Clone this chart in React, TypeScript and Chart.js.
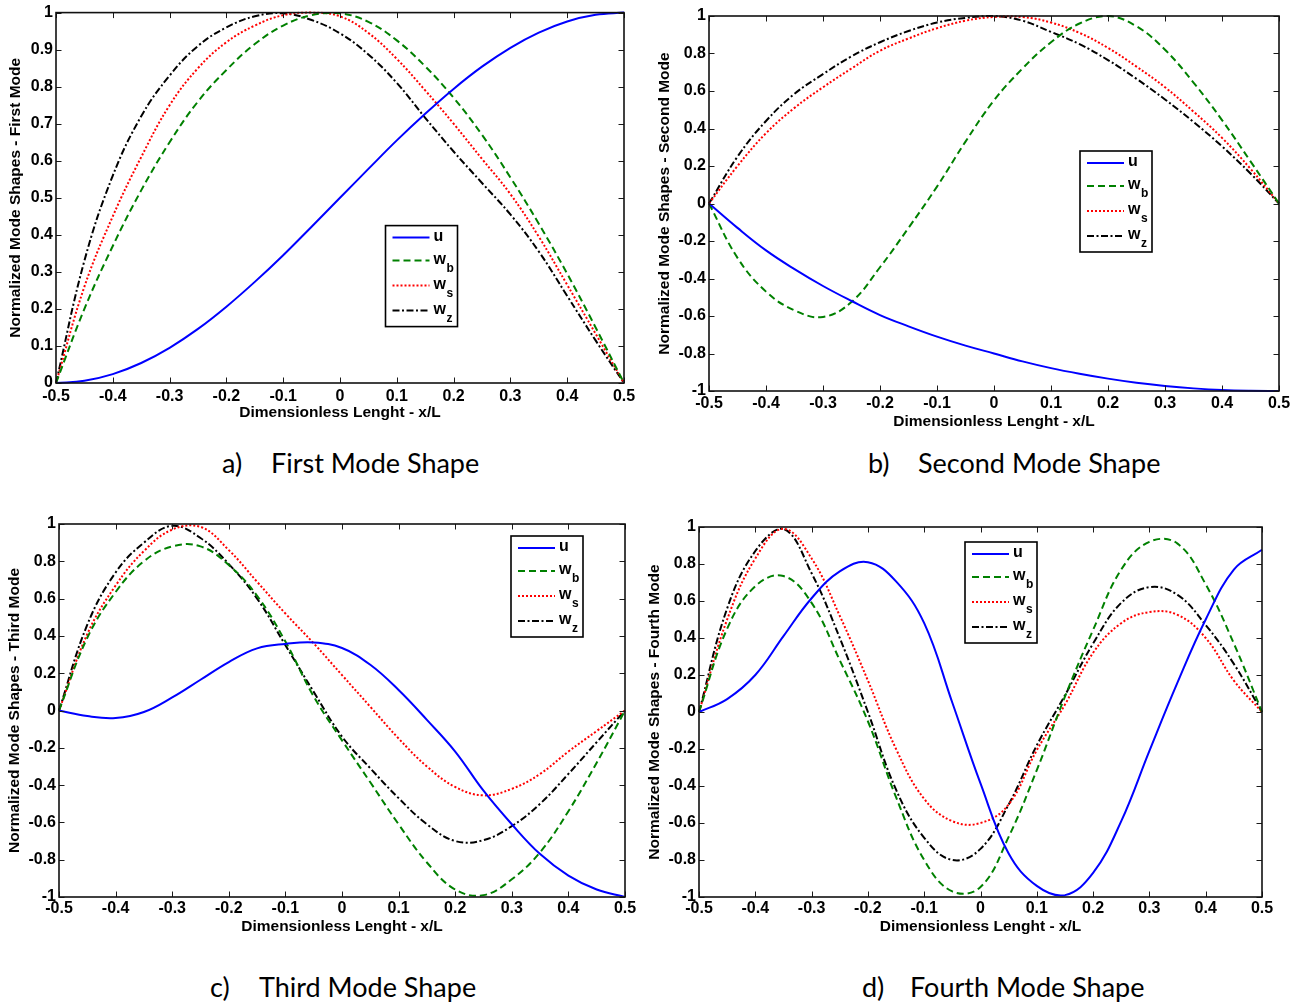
import React, { useEffect, useRef } from 'react';
import { Chart, registerables } from 'chart.js';

Chart.register(...registerables);

// ---------------- data ----------------
const X = [-0.5, -0.45, -0.4, -0.35, -0.3, -0.25, -0.2, -0.15, -0.1, -0.05, 0, 0.05, 0.1, 0.15, 0.2, 0.25, 0.3, 0.35, 0.4, 0.45, 0.5];

const X_TICKS = [-0.5, -0.4, -0.3, -0.2, -0.1, 0, 0.1, 0.2, 0.3, 0.4, 0.5];
const X_TICK_LABELS = ['-0.5', '-0.4', '-0.3', '-0.2', '-0.1', '0', '0.1', '0.2', '0.3', '0.4', '0.5'];
const Y_TICKS_FIRST = [0, 0.1, 0.2, 0.3, 0.4, 0.5, 0.6, 0.7, 0.8, 0.9, 1];
const Y_TICK_LABELS_FIRST = ['0', '0.1', '0.2', '0.3', '0.4', '0.5', '0.6', '0.7', '0.8', '0.9', '1'];
const Y_TICKS_OTHER = [-1, -0.8, -0.6, -0.4, -0.2, 0, 0.2, 0.4, 0.6, 0.8, 1];
const Y_TICK_LABELS_OTHER = ['-1', '-0.8', '-0.6', '-0.4', '-0.2', '0', '0.2', '0.4', '0.6', '0.8', '1'];

const SERIES_MAIN = ['u', 'w', 'w', 'w'];
const SERIES_SUB = ['', 'b', 's', 'z'];

// a) First mode
const A_U = [0, 0.006, 0.024, 0.054, 0.095, 0.146, 0.206, 0.273, 0.345, 0.422, 0.5, 0.578, 0.655, 0.727, 0.794, 0.854, 0.905, 0.946, 0.976, 0.994, 1];
const A_WB = [0, 0.2, 0.37, 0.52, 0.65, 0.76, 0.845, 0.915, 0.965, 0.993, 0.998, 0.975, 0.925, 0.855, 0.77, 0.67, 0.555, 0.43, 0.295, 0.15, 0];
const A_WS = [0, 0.26, 0.45, 0.61, 0.75, 0.85, 0.92, 0.965, 0.993, 1.0, 0.99, 0.945, 0.875, 0.79, 0.7, 0.605, 0.51, 0.395, 0.265, 0.133, 0];
const A_WZ = [0, 0.33, 0.56, 0.72, 0.83, 0.91, 0.96, 0.99, 0.998, 0.98, 0.944, 0.887, 0.81, 0.716, 0.625, 0.54, 0.455, 0.355, 0.235, 0.115, 0];

// b) Second mode
const B_U = [0, -0.13, -0.25, -0.35, -0.44, -0.52, -0.595, -0.655, -0.71, -0.758, -0.8, -0.842, -0.878, -0.908, -0.934, -0.956, -0.973, -0.986, -0.995, -0.999, -1.0];
const B_WB = [0, -0.29, -0.47, -0.57, -0.605, -0.525, -0.34, -0.13, 0.09, 0.33, 0.55, 0.72, 0.86, 0.96, 1.0, 0.945, 0.82, 0.645, 0.445, 0.225, 0];
const B_WS = [0, 0.2, 0.375, 0.51, 0.62, 0.72, 0.815, 0.88, 0.935, 0.975, 0.995, 0.995, 0.965, 0.91, 0.83, 0.73, 0.62, 0.49, 0.35, 0.185, 0];
const B_WZ = [0, 0.25, 0.44, 0.585, 0.69, 0.785, 0.86, 0.92, 0.965, 0.99, 1.0, 0.975, 0.915, 0.85, 0.765, 0.665, 0.555, 0.435, 0.305, 0.16, 0];

// c) Third mode
const C_U = [0, -0.03, -0.04, -0.008, 0.07, 0.165, 0.26, 0.333, 0.357, 0.365, 0.335, 0.245, 0.11, -0.05, -0.22, -0.43, -0.61, -0.77, -0.885, -0.96, -1.0];
const C_WB = [0, 0.39, 0.635, 0.8, 0.88, 0.88, 0.78, 0.615, 0.37, 0.075, -0.16, -0.385, -0.61, -0.815, -0.96, -0.99, -0.905, -0.76, -0.54, -0.28, 0];
const C_WS = [0, 0.41, 0.67, 0.855, 0.97, 0.985, 0.86, 0.69, 0.52, 0.36, 0.19, 0.02, -0.15, -0.3, -0.41, -0.455, -0.42, -0.34, -0.22, -0.11, 0];
const C_WZ = [0, 0.46, 0.74, 0.9, 0.99, 0.925, 0.785, 0.6, 0.35, 0.1, -0.14, -0.31, -0.47, -0.61, -0.7, -0.695, -0.62, -0.5, -0.34, -0.17, 0];

// d) Fourth mode
const D_U = [0, 0.07, 0.2, 0.41, 0.615, 0.76, 0.81, 0.706, 0.48, 0.05, -0.386, -0.765, -0.94, -0.99, -0.87, -0.59, -0.21, 0.16, 0.5, 0.77, 0.877];
const D_WB = [0, 0.45, 0.68, 0.735, 0.59, 0.28, -0.05, -0.46, -0.8, -0.97, -0.946, -0.675, -0.314, 0.083, 0.444, 0.77, 0.92, 0.91, 0.69, 0.37, 0];
const D_WS = [0, 0.5, 0.83, 0.99, 0.83, 0.52, 0.17, -0.2, -0.47, -0.59, -0.6, -0.5, -0.206, 0.04, 0.32, 0.48, 0.54, 0.525, 0.4, 0.17, 0];
const D_WZ = [0, 0.56, 0.87, 0.99, 0.75, 0.4, 0.0, -0.42, -0.68, -0.8, -0.74, -0.5, -0.18, 0.09, 0.37, 0.59, 0.675, 0.633, 0.47, 0.26, 0];

// ---------------- styles ----------------
const FONT = 'Liberation Sans, Arial, sans-serif';
const STYLES = [
  { color: '#0000ff', dash: [] as number[] },
  { color: '#008000', dash: [7, 4] },
  { color: '#ff0000', dash: [2, 2] },
  { color: '#000000', dash: [7, 2.5, 2, 2.5] },
];

type PanelCfg = {
  left: number; top: number; w: number; h: number;
  yAxisW: number; xAxisH: number; padTop: number; padRight: number;
  xTickPad: number; xTitlePad: number; yTitlePad: number;
  yMin: number; yMax: number; yTicks: number[]; yLabels: string[];
  yTitle: string; series: number[][]; legend: { dx: number; dy: number };
};

const PANELS: PanelCfg[] = [
  {
    left: 0, top: 0, w: 650, h: 430, yAxisW: 56, xAxisH: 47, padTop: 10, padRight: 26,
    xTickPad: 4, xTitlePad: 8, yTitlePad: 6, yMin: 0, yMax: 1,
    yTicks: Y_TICKS_FIRST, yLabels: Y_TICK_LABELS_FIRST,
    yTitle: 'Normalized Mode Shapes - First Mode', series: [A_U, A_WB, A_WS, A_WZ],
    legend: { dx: 329.5, dy: 213 },
  },
  {
    left: 650, top: 0, w: 658, h: 440, yAxisW: 59, xAxisH: 49, padTop: 16, padRight: 29,
    xTickPad: 2.5, xTitlePad: 9, yTitlePad: 5, yMin: -1, yMax: 1,
    yTicks: Y_TICKS_OTHER, yLabels: Y_TICK_LABELS_OTHER,
    yTitle: 'Normalized Mode Shapes - Second Mode', series: [B_U, B_WB, B_WS, B_WZ],
    legend: { dx: 371, dy: 135 },
  },
  {
    left: 0, top: 505, w: 650, h: 440, yAxisW: 59, xAxisH: 48, padTop: 19, padRight: 25,
    xTickPad: 1.5, xTitlePad: 9, yTitlePad: 5, yMin: -1, yMax: 1,
    yTicks: Y_TICKS_OTHER, yLabels: Y_TICK_LABELS_OTHER,
    yTitle: 'Normalized Mode Shapes - Third Mode', series: [C_U, C_WB, C_WS, C_WZ],
    legend: { dx: 452, dy: 12 },
  },
  {
    left: 640, top: 505, w: 668, h: 440, yAxisW: 59, xAxisH: 48, padTop: 22, padRight: 46,
    xTickPad: 1.5, xTitlePad: 9, yTitlePad: 5, yMin: -1, yMax: 1,
    yTicks: Y_TICKS_OTHER, yLabels: Y_TICK_LABELS_OTHER,
    yTitle: 'Normalized Mode Shapes - Fourth Mode', series: [D_U, D_WB, D_WS, D_WZ],
    legend: { dx: 266, dy: 15 },
  },
];

const CAPTIONS = [
  { letter: 'a)', text: 'First Mode Shape', lx: 222, tx: 271, cy: 463 },
  { letter: 'b)', text: 'Second Mode Shape', lx: 868, tx: 918, cy: 463 },
  { letter: 'c)', text: 'Third Mode Shape', lx: 210, tx: 259, cy: 987 },
  { letter: 'd)', text: 'Fourth Mode Shape', lx: 862, tx: 910, cy: 987 },
];

// ---------------- plugin: MATLAB-like frame, inward ticks, legend ----------------
const framePlugin = {
  id: 'matlabFrame',
  afterDatasetsDraw(chart: any, _args: any, opts: any) {
    const { ctx, chartArea, scales } = chart;
    const { left, right, top, bottom } = chartArea;
    const xs = scales.x;
    const ys = scales.y;
    const tl = 5.5;
    ctx.save();
    ctx.setLineDash([]);
    ctx.strokeStyle = '#1a1a1a';
    ctx.lineWidth = 1;
    ctx.beginPath();
    for (const t of xs.ticks) {
      const px = Math.round(xs.getPixelForValue(t.value)) + 0.5;
      ctx.moveTo(px, bottom); ctx.lineTo(px, bottom - tl);
      ctx.moveTo(px, top); ctx.lineTo(px, top + tl);
    }
    for (const t of ys.ticks) {
      const py = Math.round(ys.getPixelForValue(t.value)) + 0.5;
      ctx.moveTo(left, py); ctx.lineTo(left + tl, py);
      ctx.moveTo(right, py); ctx.lineTo(right - tl, py);
    }
    ctx.stroke();
    ctx.strokeStyle = '#111';
    ctx.lineWidth = 1.6;
    ctx.strokeRect(left, top, right - left, bottom - top);

    // legend
    const bx = left + opts.dx;
    const by = top + opts.dy;
    const bw = 72;
    const bh = 101;
    ctx.fillStyle = '#ffffff';
    ctx.fillRect(bx, by, bw, bh);
    ctx.strokeStyle = '#000';
    ctx.lineWidth = 1.6;
    ctx.strokeRect(bx, by, bw, bh);
    const rows = [12, 35, 60, 85];
    for (let i = 0; i < 4; i++) {
      const ry = by + rows[i];
      ctx.beginPath();
      ctx.setLineDash(STYLES[i].dash);
      ctx.strokeStyle = STYLES[i].color;
      ctx.lineWidth = 2;
      ctx.moveTo(bx + 7, ry);
      ctx.lineTo(bx + 44, ry);
      ctx.stroke();
      ctx.setLineDash([]);
      ctx.fillStyle = '#000';
      ctx.textBaseline = 'middle';
      ctx.textAlign = 'left';
      ctx.font = `bold 16px ${FONT}`;
      const main = SERIES_MAIN[i];
      ctx.fillText(main, bx + 48, ry - 1);
      const sub = SERIES_SUB[i];
      if (sub) {
        const mw = ctx.measureText(main).width;
        ctx.font = `bold 12px ${FONT}`;
        ctx.fillText(sub, bx + 48 + mw + 0.5, ry + 8);
      }
    }
    ctx.restore();
  },
};

function Panel({ cfg }: { cfg: PanelCfg }) {
  const ref = useRef<HTMLCanvasElement>(null);
  useEffect(() => {
    const canvas = ref.current;
    if (!canvas) return;
    const datasets = cfg.series.map((vals, i) => ({
      label: SERIES_MAIN[i] + SERIES_SUB[i],
      data: X.map((x, k) => ({ x, y: vals[k] })),
      borderColor: STYLES[i].color,
      borderDash: STYLES[i].dash,
      borderWidth: 2,
      pointRadius: 0,
      pointHoverRadius: 0,
      fill: false,
      tension: 0.4,
      clip: 4,
    }));
    const tickFont = { family: FONT, size: 16, weight: 'bold' as const };
    const titleFont = { family: FONT, size: 15.5, weight: 'bold' as const };
    const chart = new Chart(canvas, {
      type: 'line',
      data: { datasets },
      plugins: [framePlugin],
      options: {
        animation: false,
        responsive: false,
        maintainAspectRatio: false,
        layout: { padding: { top: cfg.padTop, right: cfg.padRight, left: 0, bottom: 0 } },
        plugins: {
          legend: { display: false },
          tooltip: { enabled: false },
          // @ts-ignore
          matlabFrame: cfg.legend,
        },
        scales: {
          x: {
            type: 'linear',
            min: -0.5,
            max: 0.5,
            afterBuildTicks: (scale: any) => { scale.ticks = X_TICKS.map((v) => ({ value: v })); },
            afterFit: (scale: any) => { scale.height = cfg.xAxisH; },
            ticks: {
              autoSkip: false,
              maxRotation: 0,
              padding: cfg.xTickPad,
              color: '#000',
              font: tickFont,
              callback: (_v: any, idx: number) => X_TICK_LABELS[idx],
            },
            grid: { display: false, drawTicks: false },
            border: { display: false },
            title: {
              display: true,
              text: 'Dimensionless Lenght - x/L',
              color: '#000',
              font: titleFont,
              padding: { top: 0, bottom: cfg.xTitlePad },
            },
          },
          y: {
            type: 'linear',
            min: cfg.yMin,
            max: cfg.yMax,
            afterBuildTicks: (scale: any) => { scale.ticks = cfg.yTicks.map((v) => ({ value: v })); },
            afterFit: (scale: any) => { scale.width = cfg.yAxisW; },
            ticks: {
              autoSkip: false,
              padding: 3,
              color: '#000',
              font: tickFont,
              callback: (_v: any, idx: number) => cfg.yLabels[idx],
            },
            grid: { display: false, drawTicks: false },
            border: { display: false },
            title: {
              display: true,
              text: cfg.yTitle,
              color: '#000',
              font: titleFont,
              padding: { top: cfg.yTitlePad, bottom: 0 },
            },
          },
        },
      } as any,
    });
    return () => chart.destroy();
  }, [cfg]);
  return (
    <canvas
      ref={ref}
      width={cfg.w}
      height={cfg.h}
      style={{ position: 'absolute', left: cfg.left, top: cfg.top, width: cfg.w, height: cfg.h }}
    />
  );
}

const CAP_SIZE = 27;

export default function App() {
  return (
    <div style={{ position: 'absolute', left: 0, top: 0, width: 1308, height: 1004, background: '#fff', overflow: 'hidden' }}>
      {PANELS.map((p, i) => (
        <Panel key={i} cfg={p} />
      ))}
      {CAPTIONS.map((c, i) => (
        <React.Fragment key={i}>
          <div style={{ position: 'absolute', left: c.lx, top: c.cy - 0.53 * CAP_SIZE, fontFamily: 'Lato, sans-serif', fontSize: CAP_SIZE, lineHeight: 1, color: '#000', whiteSpace: 'nowrap' }}>
            {c.letter}
          </div>
          <div style={{ position: 'absolute', left: c.tx, top: c.cy - 0.53 * CAP_SIZE, fontFamily: 'Lato, sans-serif', fontSize: CAP_SIZE, lineHeight: 1, color: '#000', whiteSpace: 'nowrap' }}>
            {c.text}
          </div>
        </React.Fragment>
      ))}
    </div>
  );
}
